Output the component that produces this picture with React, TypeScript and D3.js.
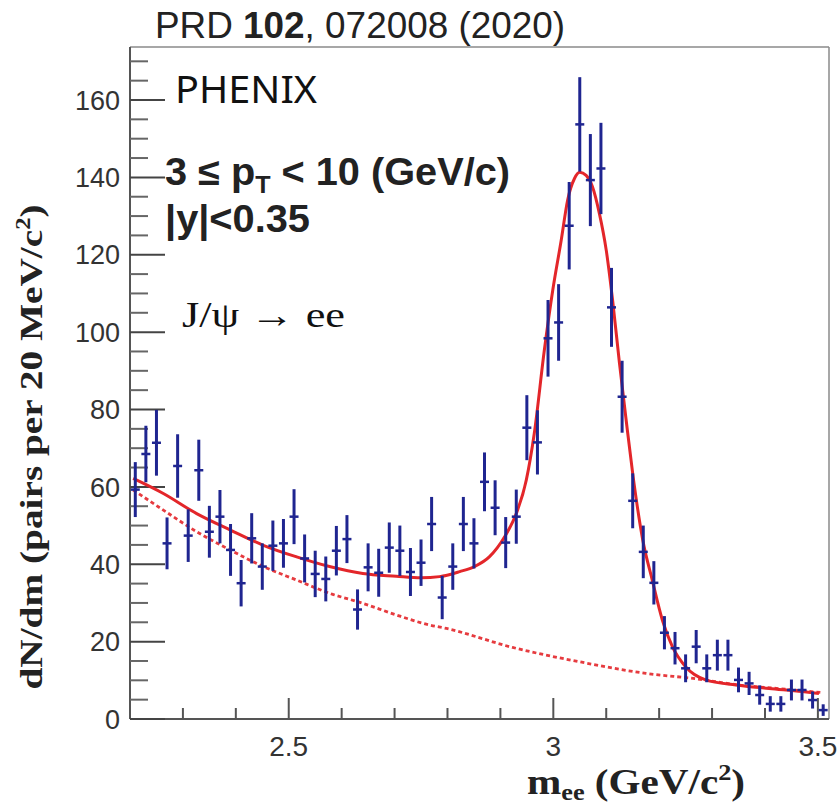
import React from "react";
import * as d3 from "d3";

// ---- data ----
const massBins = [
  2.21, 2.23, 2.25, 2.27, 2.29, 2.31, 2.33, 2.35, 2.37, 2.39,
  2.41, 2.43, 2.45, 2.47, 2.49, 2.51, 2.53, 2.55, 2.57, 2.59,
  2.61, 2.63, 2.65, 2.67, 2.69, 2.71, 2.73, 2.75, 2.77, 2.79,
  2.81, 2.83, 2.85, 2.87, 2.89, 2.91, 2.93, 2.95, 2.97, 2.99,
  3.01, 3.03, 3.05, 3.07, 3.09, 3.11, 3.13, 3.15, 3.17, 3.19,
  3.21, 3.23, 3.25, 3.27, 3.29, 3.31, 3.33, 3.35, 3.37, 3.39,
  3.41, 3.43, 3.45, 3.47, 3.49, 3.51,
];
const pairCounts = [
  59.3, 68.5, 71.4, 45.4, 65.4, 47.4, 64.3, 48.4, 52.3, 43.7,
  35.1, 46.7, 39.4, 44.8, 45.4, 52.3, 41.5, 37.5, 36.2, 43.5,
  46.5, 28.3, 39.2, 37.8, 44.3, 43.5, 38.0, 40.4, 50.4, 31.4,
  39.4, 50.4, 45.4, 61.3, 54.6, 45.6, 52.3, 75.3, 71.5, 98.4,
  102.5, 127.5, 153.7, 139.3, 142.3, 106.4, 83.3, 56.4, 43.2, 35.2,
  22.3, 18.3, 13.1, 18.7, 13.1, 16.5, 16.5, 10.1, 9.2, 6.2,
  3.9, 3.9, 7.5, 7.5, 4.9, 2.3,
];
const pairErrors = [
  7.1, 7.3, 8.5, 6.7, 8.2, 6.8, 7.9, 6.7, 6.9, 6.7,
  6.0, 6.5, 6.0, 6.5, 6.3, 7.1, 6.2, 6.0, 5.8, 6.4,
  6.2, 5.2, 6.2, 6.2, 6.5, 6.5, 6.2, 6.0, 7.0, 5.6,
  6.0, 7.0, 6.5, 7.6, 7.1, 6.6, 7.0, 8.4, 8.3, 9.9,
  9.9, 11.3, 12.2, 11.9, 11.8, 10.2, 9.3, 7.1, 6.8, 5.6,
  4.3, 4.2, 3.6, 4.3, 3.6, 4.0, 4.0, 3.2, 3.0, 2.5,
  2.0, 2.0, 2.7, 2.7, 2.2, 1.5,
];

// total fit (solid red)
const fitMass = [
  2.206, 2.263, 2.326, 2.389, 2.452, 2.515, 2.577, 2.64, 2.703, 2.75,
  2.785, 2.823, 2.851, 2.879, 2.908, 2.93, 2.949, 2.964, 2.983, 2.999,
  3.015, 3.027, 3.04, 3.05, 3.062, 3.074, 3.087, 3.1, 3.112, 3.125,
  3.137, 3.15, 3.169, 3.187, 3.206, 3.225, 3.25, 3.288, 3.345, 3.408,
  3.47, 3.502,
];
const fitTotal = [
  62.2, 58.3, 53.1, 48.9, 44.9, 41.9, 39.4, 37.6, 36.9, 36.5,
  36.8, 38.1, 39.4, 41.9, 47.1, 53.1, 61.8, 73.8, 95.3, 110.9,
  123.8, 134.1, 139.7, 141.3, 140.5, 137.6, 130.7, 121.2, 108.3, 92.0,
  78.0, 63.5, 46.3, 35.9, 25.6, 18.7, 13.5, 10.1, 8.8, 7.9,
  7.1, 6.6,
];
// background fit (dotted red)
const bkgMass = [
  2.206, 2.263, 2.326, 2.389, 2.452, 2.515, 2.577, 2.64, 2.703, 2.766,
  2.798, 2.923, 3.049, 3.175, 3.269, 3.35, 3.43, 3.51,
];
const bkgValues = [
  59.2, 54.0, 48.4, 43.7, 39.4, 35.9, 32.5, 29.9, 26.9, 24.3,
  23.4, 18.5, 14.8, 11.8, 10.4, 8.8, 7.8, 6.8,
];

const yMajorTicks = [0, 20, 40, 60, 80, 100, 120, 140, 160];
const yMinorTicks = d3.range(0, 171, 5).filter((v) => v % 20 !== 0);
const xMajorTicks = [2.5, 3, 3.5];
const xMinorTicks = [2.3, 2.4, 2.6, 2.7, 2.8, 2.9, 3.1, 3.2, 3.3, 3.4];

export default function App() {
  const W = 840;
  const H = 804;
  const left = 130, right = 829, top = 47, bottom = 719;
  const x = d3.scaleLinear().domain([2.2, 3.521]).range([left, right]);
  const y = d3.scaleLinear().domain([0, 173.7]).range([bottom, top]);

  const line = d3
    .line<[number, number]>()
    .x((d) => x(d[0]))
    .y((d) => y(d[1]))
    .curve(d3.curveMonotoneX);

  const fitPts = fitMass.map((m, i) => [m, fitTotal[i]] as [number, number]);
  const bkgPts = bkgMass.map((m, i) => [m, bkgValues[i]] as [number, number]);

  const blue = "#1f2590";
  const red = "#e3262a";

  return (
    <svg width={W} height={H} style={{ display: "block", position: "absolute", left: 0, top: 0 }}>
      <rect x={0} y={0} width={W} height={H} fill="#fff" />
      {/* header */}
      <text x={155} y={38} fontFamily="Liberation Sans, Arial, sans-serif" fontSize={36} fill="#222" textLength={410} lengthAdjust="spacingAndGlyphs">
        PRD <tspan fontWeight="bold">102</tspan>, 072008 (2020)
      </text>

      {/* frame */}
      <line x1={left} x2={right} y1={top} y2={top} stroke="#8a8a8a" strokeWidth={1.5} />
      <line x1={right} x2={right} y1={top} y2={bottom} stroke="#8a8a8a" strokeWidth={1.5} />
      <line x1={left} x2={left} y1={top} y2={bottom} stroke="#555" strokeWidth={2} />
      <line x1={left} x2={right} y1={bottom} y2={bottom} stroke="#555" strokeWidth={2} />

      {/* y ticks */}
      {yMajorTicks.map((v) => (
        <g key={"ym" + v}>
          <line x1={left} x2={left + 35} y1={y(v)} y2={y(v)} stroke="#444" strokeWidth={2} />
          <text x={120} y={y(v)} dy="0.36em" textAnchor="end" fontFamily="Liberation Sans, Arial, sans-serif" fontSize={27} fill="#333">
            {v}
          </text>
        </g>
      ))}
      {yMinorTicks.map((v) => (
        <line key={"yn" + v} x1={left} x2={left + 18} y1={y(v)} y2={y(v)} stroke="#666" strokeWidth={2} />
      ))}
      {/* x ticks */}
      {xMajorTicks.map((v) => (
        <g key={"xm" + v}>
          <line x1={x(v)} x2={x(v)} y1={bottom} y2={bottom - 21} stroke="#555" strokeWidth={2} />
          <text x={x(v)} y={756} textAnchor="middle" fontFamily="Liberation Sans, Arial, sans-serif" fontSize={28} fill="#333">
            {v === 3 ? "3" : v.toFixed(1)}
          </text>
        </g>
      ))}
      {xMinorTicks.map((v) => (
        <line key={"xn" + v} x1={x(v)} x2={x(v)} y1={bottom} y2={bottom - 11} stroke="#555" strokeWidth={2} />
      ))}

      {/* fits */}
      <path d={line(bkgPts) || ""} fill="none" stroke={red} strokeWidth={2.8} strokeDasharray="4 3" opacity={0.9} />
      <path d={line(fitPts) || ""} fill="none" stroke={red} strokeWidth={3} />

      {/* data */}
      {massBins.map((m, i) => {
        const cx = x(m);
        const v = pairCounts[i];
        const e = pairErrors[i];
        return (
          <g key={"p" + i}>
            <line x1={cx} x2={cx} y1={y(v + e)} y2={y(Math.max(0, v - e))} stroke={blue} strokeWidth={3} />
            <line x1={cx - 4.5} x2={cx + 4.5} y1={y(v)} y2={y(v)} stroke={blue} strokeWidth={2.5} />
          </g>
        );
      })}

      {/* annotations */}
      <text x={175} y={103} fontFamily="Noto Sans, sans-serif" fontSize={38} fill="#111" textLength={142} lengthAdjust="spacingAndGlyphs">
        PHENIX
      </text>
      <text x={165} y={185} fontFamily="Liberation Sans, Arial, sans-serif" fontWeight="bold" fontSize={38} fill="#222" textLength={345} lengthAdjust="spacingAndGlyphs">
        3 ≤ p<tspan fontSize={24} dy={8}>T</tspan><tspan dy={-8}> &lt; 10 (GeV/c)</tspan>
      </text>
      <text x={165} y={232} fontFamily="Liberation Sans, Arial, sans-serif" fontWeight="bold" fontSize={38} fill="#222" textLength={145} lengthAdjust="spacingAndGlyphs">
        |y|&lt;0.35
      </text>
      <text x={182} y={327} fontFamily="Liberation Serif, serif" fontSize={36} fill="#111" textLength={163} lengthAdjust="spacingAndGlyphs">
        J/ψ → ee
      </text>

      {/* axis titles */}
      <text
        transform="translate(42,447) rotate(-90)"
        textAnchor="middle"
        fontFamily="Liberation Serif, Times New Roman, serif"
        fontWeight="bold"
        fontSize={32}
        fill="#222"
        textLength={485}
        lengthAdjust="spacingAndGlyphs"
      >
        dN/dm (pairs per 20 MeV/c<tspan fontSize={20} dy={-12}>2</tspan><tspan dy={12}>)</tspan>
      </text>
      <text x={527} y={794} fontFamily="Liberation Serif, Times New Roman, serif" fontWeight="bold" fontSize={36} fill="#222" textLength={218} lengthAdjust="spacingAndGlyphs">
        m<tspan fontSize={23} dy={6}>ee</tspan><tspan dy={-6}> (GeV/c</tspan><tspan fontSize={23} dy={-14}>2</tspan><tspan dy={14}>)</tspan>
      </text>
    </svg>
  );
}
